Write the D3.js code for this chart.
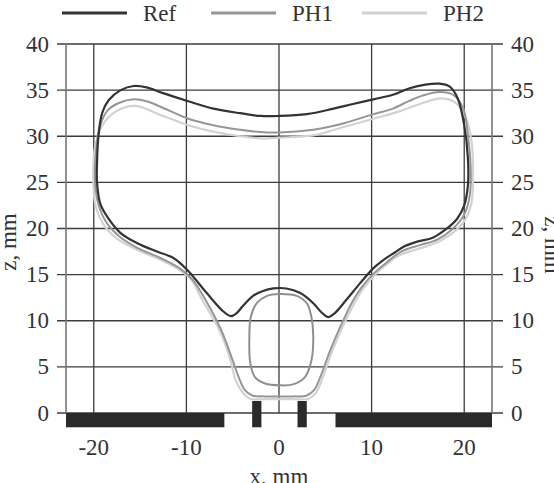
<!DOCTYPE html>
<html><head><meta charset="utf-8">
<script src="https://cdn.jsdelivr.net/npm/d3@7/dist/d3.min.js"></script>
<style>html,body{margin:0;padding:0;background:#fff;overflow:hidden}</style>
</head><body>
<svg id="c" width="554" height="483"></svg>
<script>
const xTicks = [-20, -10, 0, 10, 20];
const zTicks = [0, 5, 10, 15, 20, 25, 30, 35, 40];
const seriesNames = ["Ref", "PH1", "PH2"];

const refContour = [
[0,32.2],[3.0,32.4],[5.9,33.0],[8.0,33.5],[10.2,34.0],[12.3,34.5],[14.1,35.2],[15.8,35.6],[17.3,35.7],[18.4,35.4],[19.3,34.1],[20.0,31.2],[20.4,27.6],[20.4,24.7],[20.0,22.5],[19.2,21.0],[18.0,19.9],[16.6,19.0],[15.0,18.6],[13.6,18.1],[12.5,17.4],[11.3,16.6],[10.2,15.7],[8.7,14.0],[7.3,12.3],[6.0,10.8],[5.3,10.4],[4.6,10.9],[3.7,11.9],[2.3,13.0],[0.8,13.5],[-0.6,13.5],[-1.8,13.2],[-2.8,12.7],[-3.9,11.6],[-4.6,10.8],[-5.2,10.5],[-6.0,11.0],[-7.8,13.0],[-9.9,15.5],[-11.4,16.8],[-13.2,17.5],[-15.3,18.4],[-17.1,19.5],[-18.5,21.2],[-19.3,22.7],[-19.65,25.0],[-19.65,27.1],[-19.5,30.0],[-19.1,32.5],[-18.4,33.9],[-17.1,35.0],[-15.7,35.45],[-14.3,35.3],[-12.6,34.7],[-9.8,33.8],[-7.1,33.0],[-4.2,32.5],[-2.0,32.2]
];
const ph1Contour = [
[0,30.4],[3.7,30.7],[6.6,31.3],[10.2,32.4],[12.3,33.0],[14.0,33.8],[15.5,34.4],[17.3,34.8],[18.8,34.5],[19.9,33.0],[20.4,30.1],[20.7,26.5],[20.6,23.6],[20.0,21.5],[18.8,20.0],[17.1,18.8],[15.2,18.2],[13.2,17.5],[11.6,16.3],[10.1,15.0],[8.9,13.6],[8.0,12.2],[6.6,9.3],[5.5,6.7],[4.5,4.0],[3.8,2.5],[3.0,1.9],[1.5,1.8],[0,1.8],[-1.5,1.8],[-2.9,1.9],[-3.7,2.5],[-4.4,4.0],[-5.0,5.7],[-6.2,8.9],[-7.9,12.2],[-9.3,14.4],[-10.6,15.6],[-12.8,16.8],[-15.3,17.9],[-17.2,19.1],[-18.6,20.6],[-19.5,22.6],[-19.85,25.0],[-19.75,28.5],[-19.3,31.2],[-18.5,32.8],[-17.3,33.6],[-15.7,34.0],[-14.3,33.8],[-12.8,33.2],[-9.8,31.9],[-7.1,31.2],[-4.2,30.7],[-2.0,30.45]
];
const ph1Inner = [
[0.1,12.9],[1.9,12.7],[3.0,11.9],[3.5,10.4],[3.7,8.3],[3.5,5.7],[2.8,3.9],[1.5,3.1],[0.1,3.0],[-1.5,3.2],[-2.6,3.9],[-3.1,5.4],[-3.2,8.3],[-3.05,10.4],[-2.4,11.9],[-1.3,12.7]
];
const ph2Contour = [
[0,29.85],[3.7,30.1],[6.6,30.9],[10.2,31.9],[13.0,32.7],[15.2,33.5],[17.5,34.1],[19.1,33.6],[20.2,31.9],[20.8,29.4],[20.95,25.8],[20.8,22.9],[20.2,21.1],[19.1,19.8],[17.3,18.6],[15.2,17.85],[13.0,17.1],[11.6,16.1],[10.3,14.9],[9.1,13.5],[8.2,12.0],[6.8,9.2],[5.7,6.6],[4.7,3.8],[4.0,2.2],[3.2,1.55],[1.5,1.5],[0,1.5],[-1.5,1.5],[-3.1,1.55],[-3.9,2.2],[-4.7,3.6],[-5.2,5.6],[-6.4,8.9],[-8.2,12.1],[-9.6,14.6],[-10.9,15.6],[-12.8,16.6],[-15.3,17.7],[-17.5,18.9],[-19.0,20.5],[-19.8,22.4],[-20.05,25.3],[-19.85,28.9],[-19.0,31.3],[-17.6,32.7],[-15.5,33.3],[-12.8,32.3],[-9.8,31.2],[-7.1,30.5],[-4.2,30.0],[-1.7,29.75]
];
// electrodes: [x0, x1, z0, z1] in mm
const electrodes = [
[-23, -5.9, -1.55, 0],
[-2.9, -1.9, -1.55, 1.3],
[2.0, 3.0, -1.55, 1.3],
[6.1, 23, -1.55, 0]
];

const svg = d3.select("#c");
const x = d3.scaleLinear().domain([-23, 23]).range([66, 492]);
const y = d3.scaleLinear().domain([0, 40]).range([413, 44]);
const font = "'Liberation Serif','Times New Roman',serif";
const gridColor = "#3c3c3c";
const textColor = "#333";

// horizontal grid (extending past frame as ticks)
svg.append("g").selectAll("line").data(zTicks).join("line")
  .attr("x1", 57).attr("x2", 503)
  .attr("y1", d => y(d)).attr("y2", d => y(d))
  .attr("stroke", gridColor).attr("stroke-width", 1.3);
// vertical grid
svg.append("g").selectAll("line").data(xTicks).join("line")
  .attr("x1", d => x(d)).attr("x2", d => x(d))
  .attr("y1", y(40)).attr("y2", y(0))
  .attr("stroke", gridColor).attr("stroke-width", 1.3);
// frame sides
svg.append("g").selectAll("line").data(x.domain()).join("line")
  .attr("x1", d => x(d)).attr("x2", d => x(d))
  .attr("y1", y(40)).attr("y2", y(0))
  .attr("stroke", "#777").attr("stroke-width", 1.6);

// electrodes
svg.append("g").selectAll("rect").data(electrodes).join("rect")
  .attr("x", d => x(d[0])).attr("width", d => x(d[1]) - x(d[0]))
  .attr("y", d => y(d[3])).attr("height", d => y(d[2]) - y(d[3]))
  .attr("fill", "#2a2a2a");

const line = d3.line().x(d => x(d[0])).y(d => y(d[1])).curve(d3.curveCatmullRomClosed.alpha(0.5));
const curves = [
  {data: ph2Contour, color: "#d2d2d2", w: 2.2},
  {data: ph1Contour, color: "#969696", w: 2},
  {data: ph1Inner, color: "#8f8f8f", w: 2},
  {data: refContour, color: "#333333", w: 2.2}
];
svg.append("g").selectAll("path").data(curves).join("path")
  .attr("d", d => line(d.data)).attr("fill", "none")
  .attr("stroke", d => d.color).attr("stroke-width", d => d.w)
  .attr("stroke-linejoin", "round");

// tick labels
const lab = svg.append("g").attr("font-family", font).attr("font-size", 23).attr("fill", textColor);
lab.selectAll(".yl").data(zTicks).join("text")
  .attr("x", 49).attr("y", d => y(d)).attr("dy", "0.33em").attr("text-anchor", "end").text(d => d);
lab.selectAll(".yr").data(zTicks).join("text")
  .attr("x", 511).attr("y", d => y(d)).attr("dy", "0.33em").attr("text-anchor", "start").text(d => d);
lab.selectAll(".xl").data(xTicks).join("text")
  .attr("x", d => x(d)).attr("y", 455).attr("text-anchor", "middle").text(d => d);
lab.append("text").attr("x", x(0)).attr("y", 484).attr("text-anchor", "middle").text("x, mm");
lab.append("text").attr("transform", "translate(16,242) rotate(-90)").attr("text-anchor", "middle").text("z, mm");
lab.append("text").attr("transform", "translate(545,245) rotate(90)").attr("text-anchor", "middle").text("z, mm");

// legend
const legColors = ["#333333", "#969696", "#d2d2d2"];
const legX = [62, 211, 362];
const lg = svg.append("g");
lg.selectAll("line").data(seriesNames).join("line")
  .attr("x1", (d, i) => legX[i]).attr("x2", (d, i) => legX[i] + 65)
  .attr("y1", 13).attr("y2", 13)
  .attr("stroke", (d, i) => legColors[i]).attr("stroke-width", 3);
lg.selectAll("text").data(seriesNames).join("text")
  .attr("x", (d, i) => legX[i] + 81).attr("y", 21)
  .attr("font-family", font).attr("font-size", 23).attr("fill", textColor)
  .text(d => d);
</script>
</body></html>
